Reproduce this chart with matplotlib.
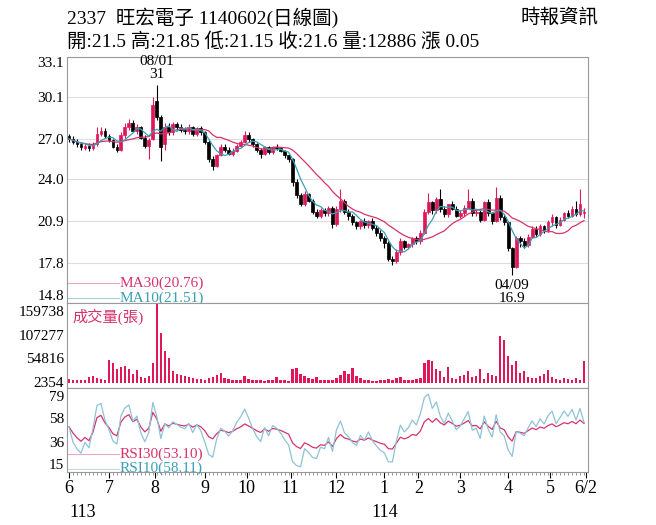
import numpy as np
import pandas as pd
import matplotlib.pyplot as plt

plt.rcParams['font.family'] = ['Liberation Serif', 'Noto Sans CJK TC']

# about one bar per two trading days, 113/06 .. 114/06/02
opens = [27.2,27.0,26.8,26.6,26.3,26.5,26.3,26.6,27.4,27.6,
         27.2,26.9,26.4,26.2,27.3,27.9,28.2,27.6,27.9,27.1,26.5,27.0,
         29.8,28.6,26.6,27.9,27.5,28.1,27.9,27.7,27.6,27.9,27.4,27.8,
         27.5,26.8,25.5,25.0,25.8,26.4,26.2,25.9,26.1,26.5,26.8,
         27.3,27.0,26.6,26.2,25.9,26.4,26.0,26.4,26.3,26.1,25.8,
         25.5,23.8,22.8,22.2,22.9,22.4,21.6,21.3,21.7,21.5,21.9,
         20.7,21.8,22.4,21.6,21.3,20.8,20.5,20.9,20.6,20.9,20.4,20.0,
         19.6,19.3,18.1,17.9,18.6,19.4,19.0,19.2,19.6,
         19.4,20.0,21.6,22.3,21.7,22.5,21.8,21.4,22.2,21.8,
         21.3,21.5,21.9,22.4,21.5,21.6,21.0,22.3,21.5,20.9,22.6,21.2,
         20.8,18.9,17.5,19.6,19.4,19.1,19.7,20.3,19.9,20.5,20.2,
         20.8,21.2,20.6,21.0,21.5,21.3,21.8,21.4,21.5]
highs = [27.4,27.2,27.0,26.8,26.7,26.7,26.8,27.9,27.9,27.8,
         27.4,27.0,26.6,27.5,28.2,28.5,28.4,28.1,28.0,27.3,27.1,30.1,
         31.0,28.8,28.2,28.2,28.3,28.3,28.1,27.9,28.1,28.0,27.9,28.0,
         27.6,26.9,25.7,25.9,26.6,26.6,26.4,26.3,26.6,26.9,27.6,
         27.5,27.1,26.7,26.3,26.5,26.5,26.5,26.6,26.4,26.2,25.9,
         25.6,24.0,23.0,23.1,23.0,22.5,21.8,21.9,21.9,22.0,22.0,
         22.0,23.3,22.5,21.8,21.4,20.9,21.0,21.1,21.0,21.1,20.6,20.2,
         19.8,19.4,18.3,18.8,19.6,19.5,19.3,19.7,19.8,
         20.2,21.8,23.0,22.4,22.7,23.3,22.0,21.6,22.4,22.0,
         21.7,22.1,23.3,22.6,21.8,21.8,22.4,22.5,21.6,23.4,22.8,21.4,
         20.9,19.0,19.8,19.8,19.6,19.9,20.5,20.5,20.7,20.6,21.0,
         21.4,21.3,21.2,21.6,21.7,22.0,22.4,23.3,21.85]
lows = [26.8,26.6,26.4,26.2,26.2,26.1,26.2,26.5,27.2,27.1,
        26.8,26.3,26.0,26.1,27.1,27.7,27.5,27.4,27.0,26.3,25.5,26.9,
        28.4,25.4,26.2,27.3,27.3,27.7,27.5,27.4,27.4,27.2,27.2,27.3,
        26.6,25.3,24.7,24.9,25.7,26.0,25.8,25.7,26.0,26.4,26.7,
        26.8,26.4,26.0,25.6,25.8,25.9,25.9,26.2,26.0,25.6,25.3,
        23.5,22.6,22.0,22.0,22.3,21.4,21.1,21.1,21.3,21.3,20.4,
        20.5,21.6,21.4,21.0,20.6,20.3,20.3,20.4,20.4,20.2,19.8,19.4,
        18.9,17.9,17.6,17.8,18.4,18.8,18.8,19.0,19.2,
        19.2,19.9,21.4,21.4,21.5,21.6,21.2,21.2,21.7,21.2,
        21.1,21.3,21.8,21.3,21.3,20.8,20.9,21.3,20.7,20.8,21.0,20.6,
        18.7,16.9,17.4,19.0,18.9,19.0,19.6,19.7,19.8,20.0,20.1,
        20.5,20.4,20.5,20.9,21.1,21.2,21.3,21.3,21.15]
closes = [27.0,26.8,26.6,26.4,26.5,26.3,26.6,27.4,27.6,27.2,
          26.9,26.4,26.2,27.3,27.9,28.2,27.6,27.9,27.1,26.5,26.9,29.5,
          28.6,26.4,27.9,27.5,28.1,27.9,27.7,27.6,27.9,27.4,27.8,27.5,
          26.8,25.5,25.0,25.8,26.4,26.2,25.9,26.1,26.5,26.8,27.3,
          27.0,26.6,26.2,25.9,26.4,26.0,26.4,26.3,26.1,25.8,25.5,
          23.8,22.8,22.2,22.9,22.4,21.6,21.3,21.7,21.5,21.9,20.7,
          21.8,22.4,21.6,21.3,20.8,20.5,20.9,20.6,20.9,20.4,20.0,19.6,
          19.3,18.1,17.9,18.6,19.4,19.0,19.2,19.6,19.4,
          20.0,21.6,22.3,21.7,22.5,21.8,21.4,22.2,21.8,21.3,
          21.5,21.9,22.4,21.5,21.6,21.0,22.3,21.5,20.9,22.6,21.2,20.8,
          18.9,17.5,19.6,19.4,19.1,19.7,20.3,19.9,20.5,20.2,20.8,
          21.2,20.6,21.0,21.5,21.3,21.8,21.4,22.2,21.6]
volume_k = [8,7,6,6,7,12,14,10,9,7,
            50,45,30,35,38,30,20,28,12,10,15,45,
            178,110,70,55,25,20,18,14,12,10,8,9,
            7,10,12,16,22,10,8,7,6,6,14,
            8,6,5,6,4,5,6,12,6,5,4,
            30,32,20,14,10,8,12,6,5,6,7,
            10,18,25,20,32,15,10,6,5,4,4,5,
            5,8,6,10,12,7,6,5,8,
            10,44,50,48,30,25,12,36,10,8,
            14,18,26,12,14,30,8,22,18,14,105,95,
            60,40,48,22,25,12,10,10,14,20,28,
            12,8,6,10,8,6,10,6,48]
month_pos = [0, 10, 21.5, 34, 44.5, 55.5, 67, 79, 87.5, 98, 110, 120.5, 129.5]
month_labels = ['6', '7', '8', '9', '10', '11', '12', '1', '2', '3', '4', '5', '6/2']
price_ticks = [14.8, 17.8, 20.9, 24.0, 27.0, 30.1, 33.1]
vol_ticks = [2354, 54816, 107277, 159738]
rsi_ticks = [15, 36, 58, 79]

RED = '#e0185a'
MA30_C = '#d6336c'
MA10_C = '#3a9fb5'
RSI10_C = '#8ec3d6'

df = pd.DataFrame({'o': opens, 'h': highs, 'l': lows, 'c': closes})
x = np.arange(len(df))
ma10 = df.c.rolling(5, min_periods=1).mean()
ma30 = df.c.rolling(15, min_periods=1).mean()

def rsi(s, n):
    d = s.diff().fillna(0)
    up = d.clip(lower=0).ewm(alpha=1/n, adjust=False).mean() + 0.05
    dn = (-d.clip(upper=0)).ewm(alpha=1/n, adjust=False).mean() + 0.05
    return 100 * up / (up + dn)

fig = plt.figure(figsize=(6.56, 5.25), dpi=100)
L, W = 67/656, 521/656
ax1 = fig.add_axes([L, 1-303/525, W, 246/525])
ax2 = fig.add_axes([L, 1-388/525, W, 85/525], sharex=ax1)
ax3 = fig.add_axes([L, 1-472/525, W, 84/525], sharex=ax1)

up = df.c >= df.o
for i in x:
    col = RED if up[i] else 'black'
    ax1.vlines(i, df.l[i], df.h[i], color=col, lw=0.8)
    lo, hi = sorted([df.o[i], df.c[i]])
    ax1.bar(i, max(hi-lo, 0.05), bottom=lo, width=0.7, color=col, edgecolor=col, lw=0.5)
ax1.plot(x, ma30, color=MA30_C, lw=0.9)
ax1.plot(x, ma10, color=MA10_C, lw=0.9)
ax1.set_ylim(14.8, 33.1)
for t in price_ticks[1:-1]:
    ax1.axhline(t, color='#dddddd', lw=0.8, zorder=0)
ax1.set_yticks(price_ticks)
ax1.set_yticklabels([f'{t:.1f}' for t in price_ticks])
ylabs = ax1.get_yticklabels()
ylabs[0].set_va('bottom')
ylabs[-1].set_va('top')
ax1.plot([0.0, 0.1], [0.08, 0.08], transform=ax1.transAxes, color='#e8a8c0', lw=0.8)
ax1.text(0.1, 0.08, 'MA30(20.76)', transform=ax1.transAxes, color=MA30_C, fontsize=11, va='center')
ax1.plot([0.0, 0.1], [0.02, 0.02], transform=ax1.transAxes, color='#a8d0dc', lw=0.8)
ax1.text(0.1, 0.02, 'MA10(21.51)', transform=ax1.transAxes, color=MA10_C, fontsize=11, va='center')
ax1.text(22, 31.3, '08/01\n31', ha='center', va='bottom', fontsize=11, linespacing=1.0)
ax1.text(111, 16.6, '04/09\n16.9', ha='center', va='top', fontsize=11, linespacing=1.0)

ax2.bar(x, np.array(volume_k) * 1000, width=0.6, color=RED, bottom=0)
ax2.set_ylim(-12000, 178000)
ax2.set_yticks(vol_ticks)
ax2.text(0.01, 0.93, '成交量(張)', transform=ax2.transAxes, color=MA30_C, fontsize=11, va='top')

ax3.plot(x, rsi(df.c, 15), color=MA30_C, lw=0.9)
ax3.plot(x, rsi(df.c, 5), color=RSI10_C, lw=0.9)
ax3.set_ylim(7.5, 86.5)
ax3.set_yticks(rsi_ticks)
ax3.plot([0.0, 0.1], [0.21, 0.21], transform=ax3.transAxes, color='#e8a8c0', lw=0.8)
ax3.text(0.1, 0.21, 'RSI30(53.10)', transform=ax3.transAxes, color=MA30_C, fontsize=11, va='center')
ax3.plot([0.0, 0.1], [0.04, 0.04], transform=ax3.transAxes, color='#c8dde6', lw=0.8)
ax3.text(0.1, 0.04, 'RSI10(58.11)', transform=ax3.transAxes, color=MA10_C, fontsize=11, va='center')

for ax in (ax1, ax2, ax3):
    ax.set_xlim(-0.5, 130)
    ax.tick_params(axis='y', length=0, labelsize=11, pad=2)
    for s in ax.spines.values():
        s.set_color('#999999')
        s.set_linewidth(0.8)
for ax in (ax1, ax2):
    ax.tick_params(axis='x', bottom=False, labelbottom=False)
ax3.set_xticks(month_pos)
ax3.set_xticklabels(month_labels, fontsize=13)
ax3.set_xticks(x, minor=True)
ax3.tick_params(axis='x', which='minor', length=2, color='#888888')
ax3.tick_params(axis='x', which='major', length=4, pad=2)
ax3.text(0, -0.38, '113', transform=ax3.get_xaxis_transform(), ha='left', va='top', fontsize=13)
ax3.text(79, -0.38, '114', transform=ax3.get_xaxis_transform(), ha='center', va='top', fontsize=13)

fig.text(67/656, 1-8/525, '2337  旺宏電子 1140602(日線圖)', fontsize=14, va='top')
fig.text(67/656, 1-32/525, '開:21.5 高:21.85 低:21.15 收:21.6 量:12886 漲 0.05', fontsize=14, va='top')
fig.text(598/656, 1-8/525, '時報資訊', fontsize=14, va='top', ha='right')

fig.savefig('out.png', dpi=100)
